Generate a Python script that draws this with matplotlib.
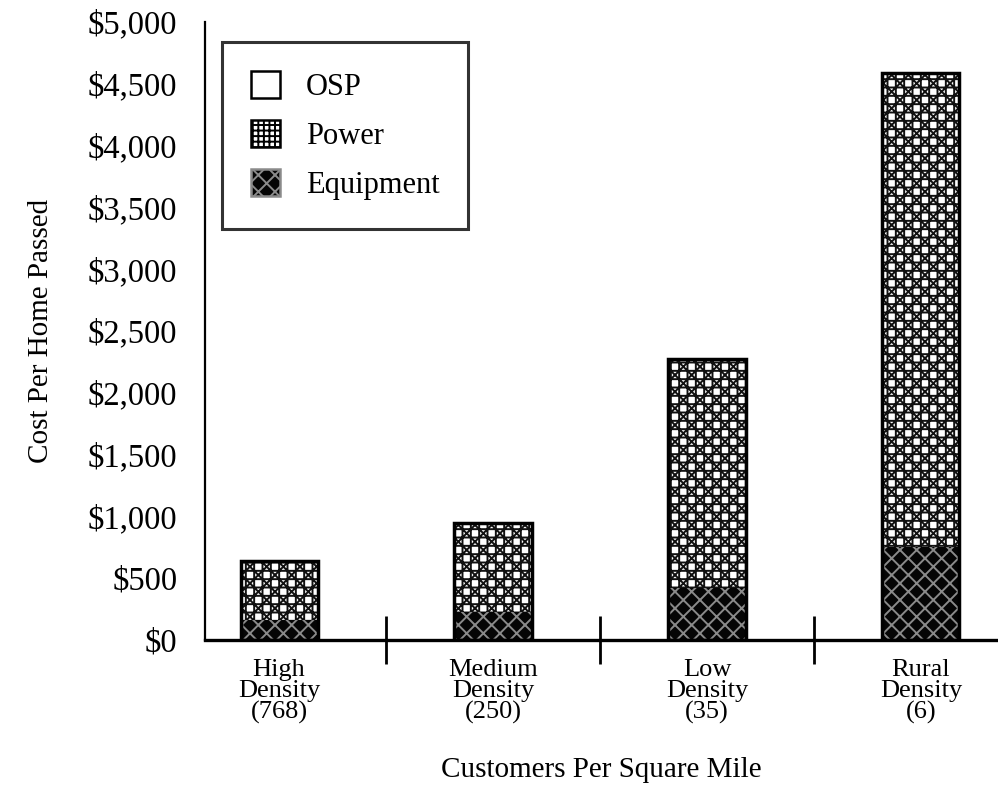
import matplotlib.pyplot as plt
from matplotlib.patches import Patch
import numpy as np

# Cost per home passed by customer density
categories = ["High\nDensity\n(768)", "Medium\nDensity\n(250)", "Low\nDensity\n(35)", "Rural\nDensity\n(6)"]
equipment = [160, 230, 420, 750]
power = [480, 720, 1850, 3840]
y_ticks = [0, 500, 1000, 1500, 2000, 2500, 3000, 3500, 4000, 4500, 5000]

plt.rcParams['font.family'] = ['Liberation Serif', 'DejaVu Serif']
plt.rcParams['hatch.linewidth'] = 1.4

fig = plt.figure(figsize=(9.98, 7.85), dpi=100)
ax = fig.add_axes([0.2054, 0.1847, 0.7946, 0.7873])

x = np.arange(len(categories))
width = 0.36

# patterned fills first, then plain outlines on top
ax.bar(x, equipment, width, color="#050505", edgecolor="#8a8a8a", hatch="xx", linewidth=0)
ax.bar(x, power, width, bottom=equipment, color="white", edgecolor="#111111", hatch="xx++", linewidth=0)
ax.bar(x, np.add(equipment, power), width, fill=False, edgecolor="black", linewidth=2.5)

ax.set_xlim(-0.346, 3.36)
ax.set_ylim(0, 5000)
ax.set_yticks(y_ticks)
ax.set_yticklabels([f"${v:,}" for v in y_ticks], fontsize=23.5)
ax.tick_params(axis="y", length=0, pad=20)

# category labels between separator ticks
ax.set_xticks(x)
ax.set_xticklabels(categories, fontsize=19, linespacing=0.92)
ax.tick_params(axis="x", which="major", length=0, pad=14)
ax.set_xticks([0.5, 1.5, 2.5], minor=True)
ax.tick_params(axis="x", which="minor", length=34, width=2, direction="inout")

for side in ["top", "right"]:
    ax.spines[side].set_visible(False)
ax.spines["left"].set_linewidth(1.6)
ax.spines["bottom"].set_linewidth(2.4)

ax.set_ylabel("Cost Per Home Passed", fontsize=21, labelpad=24)
ax.set_xlabel("Customers Per Square Mile", fontsize=21, labelpad=24)

handles = [
    Patch(facecolor="white", edgecolor="black", linewidth=1.8, label="OSP"),
    Patch(facecolor="white", edgecolor="black", hatch="+++", linewidth=1.8, label="Power"),
    Patch(facecolor="#050505", edgecolor="#8a8a8a", hatch="xx", linewidth=1.8, label="Equipment"),
]
leg = ax.legend(handles=handles, loc="upper left", bbox_to_anchor=(0.021, 0.967),
                fontsize=22, frameon=True, fancybox=False, edgecolor="black",
                handlelength=0.95, handleheight=0.95, labelspacing=0.6,
                borderpad=0.95, handletextpad=0.85, borderaxespad=0)
leg.get_frame().set_linewidth(2.2)

fig.savefig("out.png", dpi=100)
